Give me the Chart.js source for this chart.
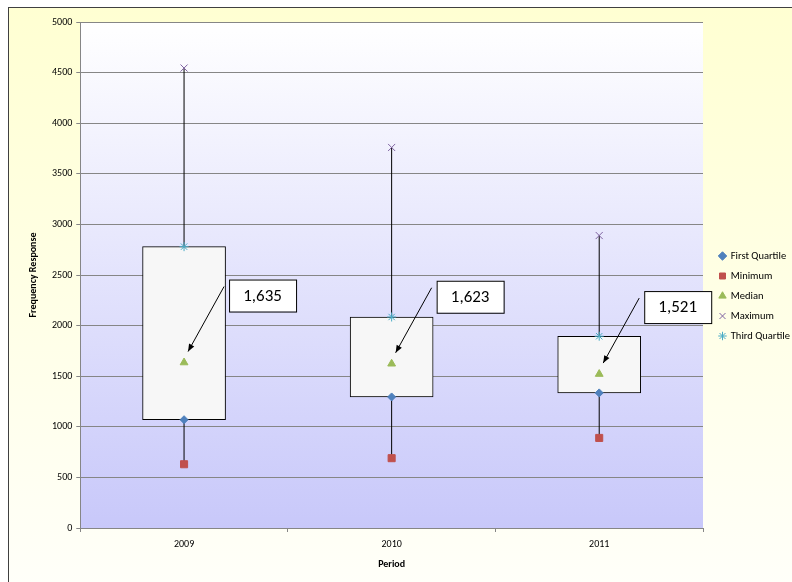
<!DOCTYPE html>
<html>
<head>
<meta charset="utf-8">
<script src="https://cdn.jsdelivr.net/npm/chart.js@4/dist/chart.umd.min.js"></script>
<style>
  html, body { margin: 0; padding: 0; background: #ffffff; }
  #wrap { width: 792px; height: 582px; position: relative; }
</style>
</head>
<body>
<div id="wrap"><canvas id="boxChart" width="792" height="582"></canvas></div>
<script>
const periods = ["2009", "2010", "2011"];
const firstQuartile = [1070, 1295, 1335];
const minimum = [630, 690, 890];
const median = [1635, 1623, 1521];
const maximum = [4545, 3760, 2890];
const thirdQuartile = [2780, 2085, 1895];
const yTicks = [0, 500, 1000, 1500, 2000, 2500, 3000, 3500, 4000, 4500, 5000];

const FONT = "Carlito, Lato, 'Open Sans', sans-serif";

// chart frame + gradient backgrounds
const backgroundPlugin = {
  id: "bg",
  afterLayout(chart) {
    // nudge the legend a bit to the right, like the original
    if (chart.legend) {
      chart.legend.left += 7;
      chart.legend.right += 7;
    }
  },
  beforeDraw(chart) {
    const ctx = chart.ctx;
    const area = chart.chartArea;
    ctx.save();
    const outer = ctx.createLinearGradient(0, 7, 0, 600);
    outer.addColorStop(0, "#ffffd2");
    outer.addColorStop(1, "#fffffa");
    ctx.fillStyle = outer;
    ctx.fillRect(8, 7, 800, 600);
    ctx.strokeStyle = "#404040";
    ctx.lineWidth = 1;
    ctx.strokeRect(8.5, 7.5, 800, 600);

    const inner = ctx.createLinearGradient(0, area.top, 0, area.bottom);
    inner.addColorStop(0, "#ffffff");
    inner.addColorStop(1, "#c8c8fa");
    ctx.fillStyle = inner;
    ctx.fillRect(area.left, area.top, area.right - area.left, area.bottom - area.top);
    ctx.restore();
  }
};

// callouts with arrows pointing at the median marker
const calloutPlugin = {
  id: "callouts",
  afterDatasetsDraw(chart) {
    const ctx = chart.ctx;
    const meta = chart.getDatasetMeta(2);
    ctx.save();
    meta.data.forEach((pt, i) => {
      const bx = pt.x + 45;
      const by = pt.y - 83;
      const bw = 67;
      const bh = 32;
      const sx = pt.x + 40;
      const sy = pt.y - 76;
      const ex = pt.x + 4;
      const ey = pt.y - 11;

      ctx.strokeStyle = "#000";
      ctx.lineWidth = 1;
      ctx.beginPath();
      ctx.moveTo(sx, sy);
      ctx.lineTo(ex, ey);
      ctx.stroke();
      const ang = Math.atan2(ey - sy, ex - sx);
      ctx.fillStyle = "#000";
      ctx.beginPath();
      ctx.moveTo(ex, ey);
      ctx.lineTo(ex - 8 * Math.cos(ang - 0.38), ey - 8 * Math.sin(ang - 0.38));
      ctx.lineTo(ex - 8 * Math.cos(ang + 0.38), ey - 8 * Math.sin(ang + 0.38));
      ctx.closePath();
      ctx.fill();

      ctx.fillStyle = "#fff";
      ctx.fillRect(bx, by, bw, bh);
      ctx.strokeRect(bx + 0.5, by + 0.5, bw, bh);
      ctx.fillStyle = "#000";
      ctx.font = "17px " + FONT;
      ctx.textAlign = "center";
      ctx.textBaseline = "middle";
      ctx.fillText(median[i].toLocaleString("en-US"), bx + bw / 2, by + bh / 2 + 1);
    });
    ctx.restore();
  }
};

function markerSet(label, values, style, color, radius, order) {
  return {
    type: "line",
    label: label,
    data: values,
    showLine: false,
    pointStyle: style,
    pointRadius: radius,
    pointHoverRadius: radius,
    pointBackgroundColor: color,
    pointBorderColor: color,
    pointBorderWidth: 1,
    backgroundColor: color,
    borderColor: color,
    order: order
  };
}

// min-to-max whisker segments, one per period, split by null gaps
const whiskerPoints = periods.flatMap((p, i) => [
  { x: p, y: minimum[i] },
  { x: p, y: maximum[i] },
  { x: p, y: null }
]);

new Chart(document.getElementById("boxChart"), {
  type: "bar",
  data: {
    labels: periods,
    datasets: [
      markerSet("First Quartile", firstQuartile, "rectRot", "#4f81bd", 4, 1),
      markerSet("Minimum", minimum, "rect", "#c0504d", 5, 1),
      markerSet("Median", median, "triangle", "#9bbb59", 4.5, 1),
      markerSet("Maximum", maximum, "crossRot", "#8064a2", 5, 1),
      markerSet("Third Quartile", thirdQuartile, "star", "#4bacc6", 4.5, 1),
      {
        label: "box",
        data: periods.map((p, i) => [firstQuartile[i], thirdQuartile[i]]),
        grouped: false,
        barThickness: 83,
        backgroundColor: "#f7f7f7",
        borderColor: "#000",
        borderWidth: 1,
        borderSkipped: false,
        order: 5
      },
      {
        type: "line",
        label: "whisker",
        data: whiskerPoints,
        spanGaps: false,
        pointRadius: 0,
        borderColor: "#000",
        borderWidth: 1,
        order: 10
      }
    ]
  },
  options: {
    responsive: false,
    animation: false,
    layout: { padding: { left: 27, top: 22, right: 0, bottom: 12 } },
    plugins: {
      tooltip: { enabled: false },
      legend: {
        position: "right",
        align: "center",
        maxWidth: 89,
        labels: {
          usePointStyle: true,
          boxWidth: 6,
          boxHeight: 6,
          padding: 9.5,
          color: "#000",
          font: { family: FONT, size: 10.5 },
          filter: (item) => item.datasetIndex < 5
        }
      }
    },
    scales: {
      x: {
        offset: true,
        grid: {
          offset: true,
          drawOnChartArea: false,
          color: "#868686",
          tickLength: 4
        },
        border: { color: "#868686" },
        ticks: { color: "#000", padding: 6, font: { family: FONT, size: 10 } },
        title: {
          display: true,
          text: "Period",
          color: "#000",
          padding: { top: 2, bottom: 0 },
          font: { family: FONT, size: 10, weight: "bold" }
        }
      },
      y: {
        min: 0,
        max: 5000,
        afterBuildTicks: (axis) => { axis.ticks = yTicks.map((v) => ({ value: v })); },
        grid: { color: "#868686", tickLength: 4 },
        border: { color: "#868686" },
        ticks: {
          color: "#000",
          padding: 4,
          font: { family: FONT, size: 10 },
          callback: (v) => String(v)
        },
        title: {
          display: true,
          text: "Frequency Response",
          color: "#000",
          padding: { top: 0, bottom: 9 },
          font: { family: FONT, size: 10, weight: "bold" }
        }
      }
    }
  },
  plugins: [backgroundPlugin, calloutPlugin]
});
</script>
</body>
</html>
